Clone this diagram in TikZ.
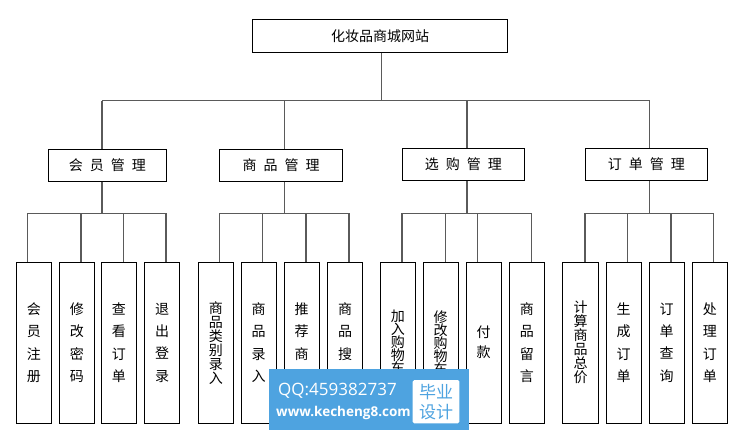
\documentclass[tikz,border=0pt]{standalone}
\usepackage{fontspec}
\setmainfont{Noto Sans CJK SC}
\newfontfamily\latinfont{Open Sans}
\definecolor{wmblue}{RGB}{78,163,224}
\definecolor{linegray}{RGB}{90,90,90}
\newcommand{\cgap}{\hspace{7pt}}
\newcommand{\noskip}{\lineskiplimit=-30pt\relax}
\newcommand{\leaffont}{\fontsize{14}{22.2}\selectfont\noskip}
\newcommand{\tightfont}{\fontsize{14}{14}\selectfont\noskip}
\newcommand{\tighterfont}{\fontsize{14}{13}\selectfont\noskip}
\newcommand{\twofont}{\fontsize{14}{20}\selectfont\noskip}
\newcommand{\bsfont}{\fontsize{17}{20}\selectfont\noskip}
\begin{document}
\begin{tikzpicture}[x=1pt,y=-1pt,
  conn/.style={draw=linegray, line width=1.1pt},
  boxbase/.style={draw=black, line width=0.8pt, fill=white, inner sep=0pt},
  topbox/.style={boxbase, minimum width=254.6pt, minimum height=33pt, font=\fontsize{14}{14}\selectfont},
  midbox/.style={boxbase, minimum width=120pt, minimum height=32pt, font=\fontsize{14}{14}\selectfont},
  leafbox/.style={boxbase, minimum width=35.3pt, minimum height=160.7pt, align=center, font=\leaffont},
  tight/.style={font=\tightfont},
  tighter/.style={font=\tighterfont},
  two/.style={font=\twofont}
]
\useasboundingbox (0,0) rectangle (738,435);
\fill[white] (0,0) rectangle (738,435);

% top
\node[topbox] (top) at (380,35.8) {化妆品商城网站};

% level 2
\node[midbox, minimum width=118pt] (m1) at (107.3,165.2) {会\cgap 员\cgap 管\cgap 理};
\node[midbox, minimum width=123.4pt] (m2) at (281,165.2) {商\cgap 品\cgap 管\cgap 理};
\node[midbox, minimum width=122pt] (m3) at (463.3,164.5) {选\cgap 购\cgap 管\cgap 理};
\node[midbox, minimum width=122pt] (m4) at (646.3,164.5) {订\cgap 单\cgap 管\cgap 理};

% bar coordinates level 1
\coordinate (b1) at (102,100.7);
\coordinate (b2) at (284.3,100.7);
\coordinate (b3) at (467,100.7);
\coordinate (b4) at (649.5,100.7);
\coordinate (bt) at (381.7,100.7);

\draw[conn] (top.south -| bt) -- (bt);
\draw[conn] (b1) -- (b4);
\draw[conn] (b1) -- (b1 |- m1.north);
\draw[conn] (b2) -- (b2 |- m2.north);
\draw[conn] (b3) -- (b3 |- m3.north);
\draw[conn] (b4) -- (b4 |- m4.north);

% leaves
\node[leafbox] (a1) at (34,342.7) {会\\员\\注\\册};
\node[leafbox] (a2) at (76.8,342.7) {修\\改\\密\\码};
\node[leafbox] (a3) at (118.8,342.7) {查\\看\\订\\单};
\node[leafbox] (a4) at (162,342.7) {退\\出\\登\\录};

\node[leafbox, tight] (c1) at (215.8,342.7) {商\\品\\类\\别\\录\\入};
\node[leafbox] (c2) at (258.7,342.7) {商\\品\\录\\入};
\node[leafbox] (c3) at (301.7,342.7) {推\\荐\\商\\品};
\node[leafbox] (c4) at (345,342.7) {商\\品\\搜\\索};

\node[leafbox, tighter] (d1) at (397.8,342.7) {加\\入\\购\\物\\车};
\node[leafbox, tighter] (d2) at (440.7,342.7) {修\\改\\购\\物\\车};
\node[leafbox, two] (d3) at (483.7,342.7) {付\\款};
\node[leafbox] (d4) at (526.9,342.7) {商\\品\\留\\言};

\node[leafbox, tight] (e1) at (580.5,342.7) {计\\算\\商\\品\\总\\价};
\node[leafbox] (e2) at (623.7,342.7) {生\\成\\订\\单};
\node[leafbox] (e3) at (666.7,342.7) {订\\单\\查\\询};
\node[leafbox] (e4) at (709.8,342.7) {处\\理\\订\\单};

% level 3 bars
\coordinate (g1) at (102,213.3);
\coordinate (g2) at (284.3,213.3);
\coordinate (g3) at (467,213.3);
\coordinate (g4) at (649.5,213.3);

\draw[conn] (m1.south -| g1) -- (g1);
\draw[conn] (m2.south -| g2) -- (g2);
\draw[conn] (m3.south -| g3) -- (g3);
\draw[conn] (m4.south -| g4) -- (g4);

\foreach \n/\x in {a1/27.3,a2/81,a3/123.3,a4/166,
                   c1/219.3,c2/262.7,c3/306,c4/349,
                   d1/402,d2/445.7,d3/477.7,d4/531.3,
                   e1/585,e2/627.7,e3/671,e4/713.7}{
  \draw[conn] (\x,213.3) -- (\x,213.3 |- \n.north);
}
\draw[conn] (27.3,213.3) -- (166,213.3);
\draw[conn] (219.3,213.3) -- (349,213.3);
\draw[conn] (402,213.3) -- (531.3,213.3);
\draw[conn] (585,213.3) -- (713.7,213.3);

% watermark
\node[fill=wmblue, inner sep=0pt, minimum width=200pt, minimum height=60.5pt, anchor=north west] (wm) at (268.3,369) {};
\node[text=white, inner sep=0pt, anchor=west, font=\latinfont\fontsize{17}{17}\selectfont] (qq) at (278,391) {QQ:459382737};
\node[text=white, inner sep=0pt, anchor=west, font=\latinfont\bfseries\fontsize{13.5}{13.5}\selectfont] (url) at (276,413) {www.kecheng8.com};
\node[fill=white, rounded corners=1.5pt, inner sep=0pt, minimum width=46.6pt, minimum height=43.3pt] (wbox) at (436,401.7) {};
\node[text=wmblue, inner sep=0pt, align=center, font=\bsfont] (bs) at (wbox.center) {毕业\\设计};
\end{tikzpicture}
\end{document}
